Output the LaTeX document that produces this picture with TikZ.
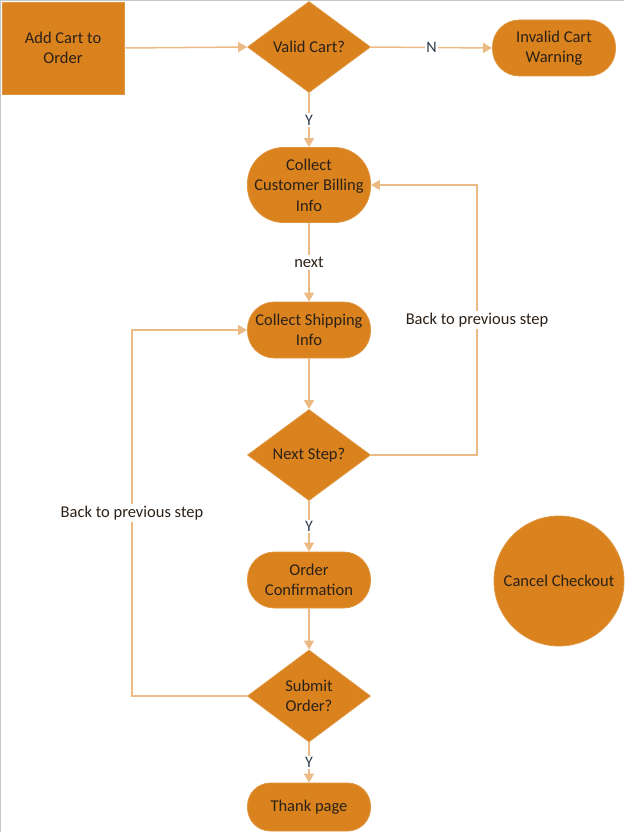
\documentclass[tikz,border=0pt]{standalone}
\usepackage{fontspec}
\setmainfont{Carlito}
\usetikzlibrary{shapes.geometric,arrows.meta}
\definecolor{orfill}{HTML}{D9821E}
\definecolor{orline}{HTML}{ECBA84}
\definecolor{txt}{HTML}{2B2118}
\definecolor{lbl}{HTML}{2E3A4A}
\begin{document}
\begin{tikzpicture}[x=1pt,y=-1pt,
  font=\fontsize{16.5}{20.5}\selectfont,
  shp/.style={fill=orfill, draw=orfill!85!white, line width=0.8pt, text=txt, align=center, inner sep=0pt},
  boxnode/.style={shp, rectangle, minimum width=122pt, minimum height=92pt},
  stad/.style={shp, rectangle, rounded corners=27pt, minimum width=123pt, minimum height=56pt},
  dec/.style={shp, diamond, minimum width=123pt, minimum height=91pt},
  conn/.style={draw=orline, line width=1.5pt, -{Triangle[length=9pt,width=10pt]}},
  lab/.style={fill=white, text=lbl, inner sep=1.5pt, font=\fontsize{16}{18}\selectfont},
  note/.style={fill=white, text=txt, inner sep=2pt, font=\fontsize{16.5}{18}\selectfont}]
\useasboundingbox (0,0) rectangle (624,832);
\draw[gray!45, line width=1.2pt] (0.6,832) -- (0.6,0.6) -- (624,0.6);

\node[boxnode] (add) at (63,48) {Add Cart to\\Order};
\node[dec] (valid) at (309,47) {Valid Cart?};
\node[stad] (invalid) at (554,48) {Invalid Cart\\Warning};
\node[stad, minimum height=75pt, rounded corners=36pt] (billing) at (309,185) {Collect\\Customer Billing\\Info};
\node[stad] (ship) at (309,330) {Collect Shipping\\Info};
\node[dec] (next) at (309,455) {Next Step?};
\node[stad] (conf) at (309,580) {Order\\Confirmation};
\node[dec, minimum height=92pt] (submit) at (309,696) {Submit\\Order?};
\node[stad, minimum height=48pt, rounded corners=23pt] (thank) at (309,807) {Thank page};
\node[shp, circle, minimum size=130pt] (cancel) at (559,581) {Cancel Checkout};

\coordinate (r1) at (477,455);
\coordinate (r2) at (477,185);
\coordinate (l1) at (132,696);
\coordinate (l2) at (132,330);

\draw[conn] (add.east) -- (valid.west);
\draw[conn] (valid.east) -- node[lab]{N} (invalid.west);
\draw[conn] (valid.south) -- node[lab]{Y} (billing.north);
\draw[conn] (billing.south) -- node[note]{next} (ship.north);
\draw[conn] (ship.south) -- (next.north);
\draw[conn] (next.east) -- (r1) -- node[note]{Back to previous step} (r2) -- (billing.east);
\draw[conn] (next.south) -- node[lab]{Y} (conf.north);
\draw[conn] (conf.south) -- (submit.north);
\draw[conn] (submit.west) -- (l1) -- node[note]{Back to previous step} (l2) -- (ship.west);
\draw[conn] (submit.south) -- node[lab]{Y} (thank.north);
\end{tikzpicture}
\end{document}
